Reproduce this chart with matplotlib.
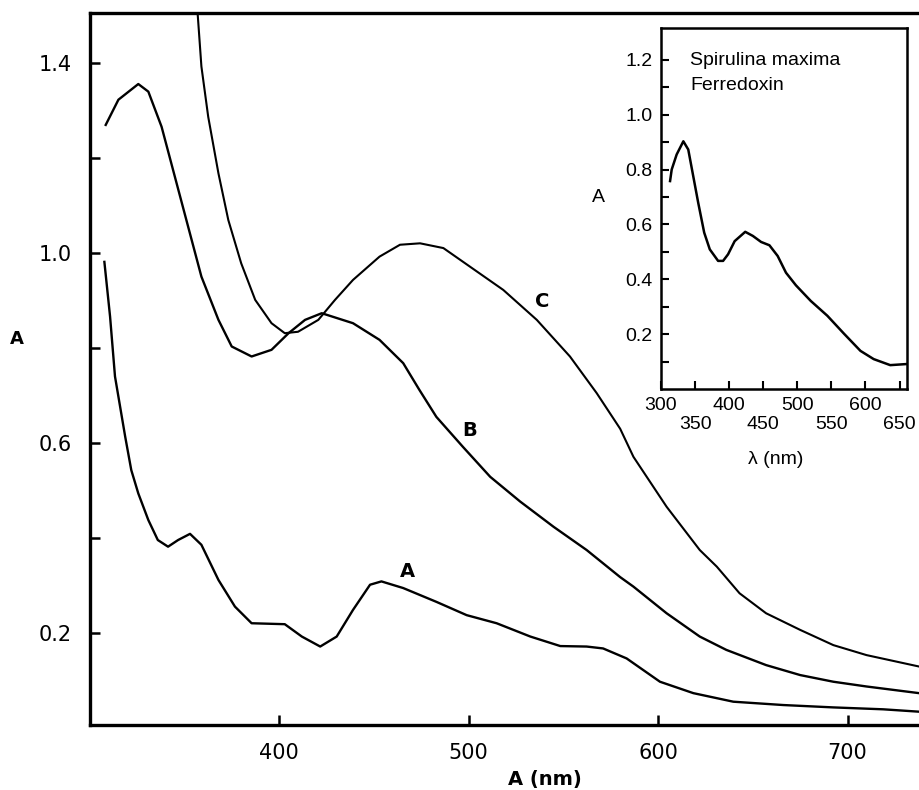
import matplotlib
matplotlib.use('Agg')
import matplotlib.pyplot as plt

# curve A (main plot)
wl_a = [307.8, 310.8, 313.4, 318.8, 322, 325.7, 331, 336, 341.4, 346.7, 353, 359, 368, 376.7, 385.5,
        403, 412, 421.7, 430.4, 439, 448, 454, 465.5, 483, 499, 514.8, 532.6, 548.4, 562.3, 571,
        583.4, 601, 618.6, 639.7, 666, 692.5, 718.8, 737.7]
abs_a = [0.981, 0.866, 0.74, 0.613, 0.543, 0.494, 0.438, 0.396, 0.382, 0.396, 0.409, 0.386, 0.312, 0.256, 0.221,
         0.219, 0.193, 0.172, 0.193, 0.249, 0.302, 0.309, 0.295, 0.266, 0.238, 0.221, 0.193, 0.173, 0.172, 0.168,
         0.147, 0.098, 0.074, 0.056, 0.049, 0.044, 0.04, 0.035]

# curve B
wl_b = [308.5, 315.2, 325.7, 331, 338, 345, 352, 359, 368, 375, 385.5, 396, 405, 413.7, 422.5, 439, 453,
        465.5, 474, 483, 497, 511.4, 527.2, 544.8, 562.3, 580, 587, 604.5, 622, 636, 657, 675, 692.5,
        710, 737.7]
abs_b = [1.269, 1.322, 1.355, 1.339, 1.265, 1.16, 1.055, 0.95, 0.859, 0.803, 0.782, 0.796, 0.831, 0.859,
         0.873, 0.852, 0.817, 0.768, 0.712, 0.655, 0.592, 0.529, 0.477, 0.424, 0.375, 0.318, 0.298, 0.242,
         0.193, 0.165, 0.133, 0.112, 0.098, 0.088, 0.074]

# curve C
wl_c = [357, 359, 362.6, 368, 373.2, 380, 387.4, 396, 403, 410, 420.7, 429.5, 439, 453, 463.8, 474.4,
        486.7, 500.7, 518.3, 536, 553.5, 567.6, 580, 587, 604.5, 622, 631, 643, 657, 675, 692.5, 710, 737.7]
abs_c = [1.504, 1.392, 1.286, 1.167, 1.069, 0.978, 0.901, 0.852, 0.831, 0.834, 0.859, 0.901, 0.943, 0.992,
         1.017, 1.020, 1.01, 0.971, 0.922, 0.859, 0.782, 0.705, 0.63, 0.571, 0.466, 0.375, 0.34, 0.284,
         0.242, 0.207, 0.175, 0.154, 0.13]

# inset: Spirulina maxima ferredoxin
wl_fd = [313.3, 315.7, 323, 332.8, 340, 347.3, 354.6, 363.4, 371.6, 383.8, 391.1, 398.4, 408.1, 423.6,
         434.8, 446.9, 459.1, 471.2, 483.4, 498, 519.8, 544.1, 568.4, 592.7, 612.1, 636.4, 660.7]
abs_fd = [0.758, 0.8, 0.855, 0.903, 0.873, 0.776, 0.679, 0.57, 0.509, 0.467, 0.467, 0.491, 0.539, 0.573,
          0.558, 0.536, 0.524, 0.485, 0.424, 0.378, 0.321, 0.267, 0.202, 0.139, 0.109, 0.087, 0.091]

main_yticks = [0.2, 0.4, 0.6, 0.8, 1.0, 1.2, 1.4]
main_ylabels = ['0.2', '', '0.6', '', '1.0', '', '1.4']
main_xticks = [400, 500, 600, 700]
inset_xticks = [300, 350, 400, 450, 500, 550, 600, 650]
inset_xlabels = ['300', '\n350', '400', '\n450', '500', '\n550', '600', '\n650']
inset_yticks = [0.1, 0.2, 0.3, 0.4, 0.5, 0.6, 0.7, 0.8, 0.9, 1.0, 1.1, 1.2]
inset_ylabels = ['', '0.2', '', '0.4', '', '0.6', '', '0.8', '', '1.0', '', '1.2']

W, H = 919, 790
fig = plt.figure(figsize=(W / 100, H / 100), dpi=100)

# main axes (right side runs off the figure, like the scan)
ax = fig.add_axes([89.6 / W, 1 - 725 / H, 1 - 89.6 / W, (725 - 12.7) / H])
ax.plot(wl_a, abs_a, color='black', lw=1.7)
ax.plot(wl_b, abs_b, color='black', lw=1.7)
ax.plot(wl_c, abs_c, color='black', lw=1.5)
ax.set_xlim(300, 737.7)
ax.set_ylim(0.007, 1.505)
ax.spines['right'].set_visible(False)
for s in ['left', 'bottom', 'top']:
    ax.spines[s].set_linewidth(2.4)
ax.set_yticks(main_yticks)
ax.set_yticklabels(main_ylabels)
ax.set_xticks(main_xticks)
ax.set_xticklabels([str(t) for t in main_xticks])
ax.tick_params(direction='in', length=7, width=1.8, labelsize=15, pad=13)

ax.text(468, 0.329, 'A', fontsize=14, fontweight='bold', ha='center', va='center')
ax.text(500.7, 0.627, 'B', fontsize=14, fontweight='bold', ha='center', va='center')
ax.text(538.6, 0.897, 'C', fontsize=14, fontweight='bold', ha='center', va='center')

fig.text(17 / W, 1 - 339 / H, 'A', fontsize=13, fontweight='bold', ha='center', va='center')
fig.text(545 / W, 1 - 780 / H, 'A (nm)', fontsize=14, fontweight='bold', ha='center', va='center')

# inset
axi = fig.add_axes([661 / W, 1 - 389 / H, (907 - 661) / W, (389 - 28) / H])
axi.plot(wl_fd, abs_fd, color='black', lw=1.8)
axi.set_xlim(302, 661)
axi.set_ylim(0.0, 1.316)
for s in axi.spines.values():
    s.set_linewidth(1.8)
axi.set_xticks(inset_xticks)
axi.set_xticklabels(inset_xlabels, fontfamily='Liberation Sans', fontsize=14, linespacing=1.15)
axi.set_yticks(inset_yticks)
axi.set_yticklabels(inset_ylabels, fontfamily='Liberation Sans', fontsize=14)
axi.tick_params(direction='in', length=6, width=1.5, pad=6)
axi.text(0.118, 0.911, 'Spirulina maxima', transform=axi.transAxes, fontfamily='Liberation Sans',
         fontsize=14, ha='left', va='center')
axi.text(0.118, 0.842, 'Ferredoxin', transform=axi.transAxes, fontfamily='Liberation Sans',
         fontsize=14, ha='left', va='center')
fig.text(598 / W, 1 - 197 / H, 'A', fontfamily='Liberation Sans', fontsize=14, ha='center', va='center')
fig.text(775.7 / W, 1 - 460 / H, 'λ (nm)', fontfamily='Liberation Sans', fontsize=14, ha='center', va='center')

fig.savefig('out.png', dpi=100)
